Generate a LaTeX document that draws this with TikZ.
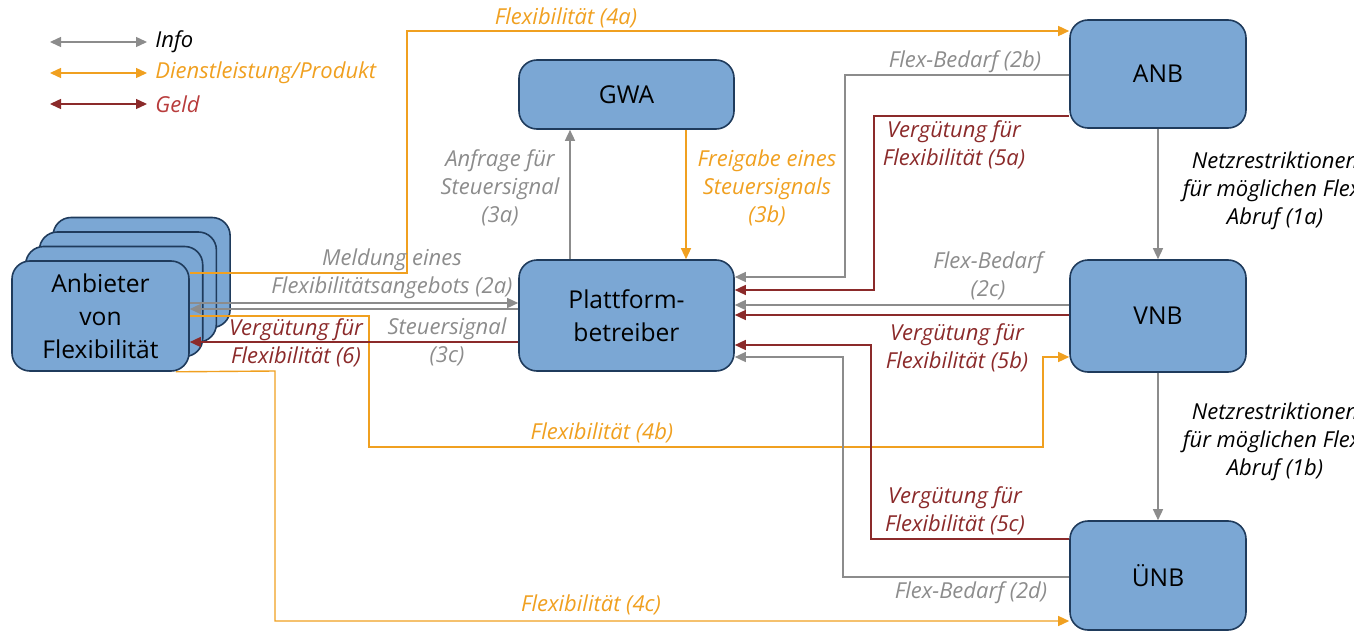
\documentclass[tikz,border=0pt]{standalone}
\usepackage{fontspec}
\setmainfont{Open Sans}
\usetikzlibrary{arrows.meta}

\definecolor{boxfill}{HTML}{7BA7D4}
\definecolor{boxline}{HTML}{1F3B5C}
\definecolor{infogray}{HTML}{8C8C8C}
\definecolor{flexorange}{HTML}{F0A020}
\definecolor{geldred}{HTML}{8B2A2A}
\definecolor{geldtext}{HTML}{B83C3C}

\begin{document}
\begin{tikzpicture}[x=0.5pt,y=-0.5pt]
\tikzstyle{akteur}=[draw=boxline, line width=0.8pt, fill=boxfill, rounded corners=9pt, align=center, inner sep=0pt, font=\fontsize{12.3}{16.5}\selectfont]
\tikzstyle{info}=[infogray, line width=0.7pt, -{Triangle[length=5.5pt,width=5pt]}]
\tikzstyle{dienst}=[flexorange, line width=0.7pt, -{Triangle[length=5.5pt,width=5pt]}]
\tikzstyle{geld}=[geldred, line width=0.7pt, -{Triangle[length=5.5pt,width=5pt]}]
\tikzstyle{lbl}=[align=center, inner sep=0pt, font=\fontsize{11}{14}\selectfont\itshape]

\useasboundingbox (0,0) rectangle (1354,631);
\clip (0,0) rectangle (1354,631);

% Legende
\coordinate (li1) at (50,42);  \coordinate (re1) at (147,42);
\coordinate (li2) at (50,73);  \coordinate (re2) at (147,73);
\coordinate (li3) at (50,104); \coordinate (re3) at (147,104);
\draw[info, {Triangle[length=5.5pt,width=5pt]}-{Triangle[length=5.5pt,width=5pt]}] (li1) -- (re1);
\draw[dienst, {Triangle[length=5.5pt,width=5pt]}-{Triangle[length=5.5pt,width=5pt]}] (li2) -- (re2);
\draw[geld, {Triangle[length=5.5pt,width=5pt]}-{Triangle[length=5.5pt,width=5pt]}] (li3) -- (re3);
\node[lbl, anchor=west] (leginfo) at (155,42) {Info};
\node[lbl, anchor=west, text=flexorange] (legdienst) at (155,73) {Dienstleistung/Produkt};
\node[lbl, anchor=west, text=geldtext] (leggeld) at (155,104) {Geld};

% Akteure
\foreach \i in {3,2,1}
  \node[akteur, minimum width=88.5pt, minimum height=55pt] (stapel\i) at ({100.5+13.7*\i},{316-14.5*\i}) {};
\node[akteur, minimum width=88.5pt, minimum height=55pt] (anbieter) at (100.5,316) {Anbieter\\von\\Flexibilität};
\node[akteur, minimum width=107.5pt, minimum height=34.5pt] (gwa) at (626.5,94.5) {GWA};
\node[akteur, minimum width=107.5pt, minimum height=55.5pt] (platt) at (626.5,315.5) {Plattform-\\betreiber};
\node[akteur, minimum width=88pt, minimum height=54pt] (anb) at (1158,74) {ANB};
\node[akteur, minimum width=88pt, minimum height=56pt] (vnb) at (1158,316) {VNB};
\node[akteur, minimum width=88pt, minimum height=54.5pt] (unb) at (1158,575.5) {ÜNB};

% Anbieter <-> Plattform
\draw[dienst] (anbieter.east |- 0,273) -- (407,273) |- (anb.west |- 0,31);
\draw[info] (anbieter.east |- 0,303) -- (platt.west |- 0,303);
\draw[info] (platt.west |- 0,309) -- (anbieter.east |- 0,309);
\draw[dienst] (anbieter.east |- 0,316) -- (369,316) -- (369,447) -- (1043,447) |- (vnb.west |- 0,357);
\draw[geld] (platt.west |- 0,342) -- (anbieter.east |- 0,342);
\draw[dienst] ([xshift=-7pt]anbieter.south east) -- (275,371) |- (unb.west |- 0,621);

% GWA
\draw[info] (platt.north -| 570,0) -- (gwa.south -| 570,0);
\draw[dienst] (gwa.south -| 686,0) -- (platt.north -| 686,0);

% Netzbetreiber
\draw[info] (anb) -- (vnb);
\draw[info] (vnb) -- (unb);
\draw[info] (anb.west |- 0,75) -- (845,75) |- (platt.east |- 0,277);
\draw[geld] (anb.west |- 0,116) -- (874,116) |- (platt.east |- 0,290);
\draw[info] (vnb.west |- 0,305) -- (platt.east |- 0,305);
\draw[geld] (vnb.west |- 0,315) -- (platt.east |- 0,315);
\draw[geld] (unb.west |- 0,539) -- (871,539) |- (platt.east |- 0,345);
\draw[info] (unb.west |- 0,577) -- (843,577) |- (platt.east |- 0,357);

% Beschriftungen
\node[lbl, text=flexorange] (t4a) at (566,18) {Flexibilität (4a)};
\node[lbl, text=infogray] (t2a) at (392,274) {Meldung eines\\Flexibilitätsangebots (2a)};
\node[lbl, text=infogray] (t3c) at (447,342) {Steuersignal\\(3c)};
\node[lbl, text=geldred] (t6) at (296,343) {Vergütung für\\Flexibilität (6)};
\node[lbl, text=infogray] (t3a) at (500,188) {Anfrage für\\Steuersignal\\(3a)};
\node[lbl, text=flexorange] (t3b) at (767,188) {Freigabe eines\\Steuersignals\\(3b)};
\node[lbl, text=infogray] (t2b) at (965,62) {Flex-Bedarf (2b)};
\node[lbl, text=geldred] (t5a) at (954,145) {Vergütung für\\Flexibilität (5a)};
\node[lbl, text=infogray] (t2c) at (988,276) {Flex-Bedarf\\(2c)};
\node[lbl, text=geldred] (t5b) at (957,348) {Vergütung für\\Flexibilität (5b)};
\node[lbl, text=flexorange] (t4b) at (602,433) {Flexibilität (4b)};
\node[lbl, text=geldred] (t5c) at (955,511) {Vergütung für\\Flexibilität (5c)};
\node[lbl, text=infogray] (t2d) at (971,593) {Flex-Bedarf (2d)};
\node[lbl, text=flexorange] (t4c) at (591,605) {Flexibilität (4c)};
\node[lbl] (t1a) at (1275,191) {Netzrestriktionen\\für möglichen Flex-\\Abruf (1a)};
\node[lbl] (t1b) at (1275,442) {Netzrestriktionen\\für möglichen Flex-\\Abruf (1b)};
\end{tikzpicture}
\end{document}
